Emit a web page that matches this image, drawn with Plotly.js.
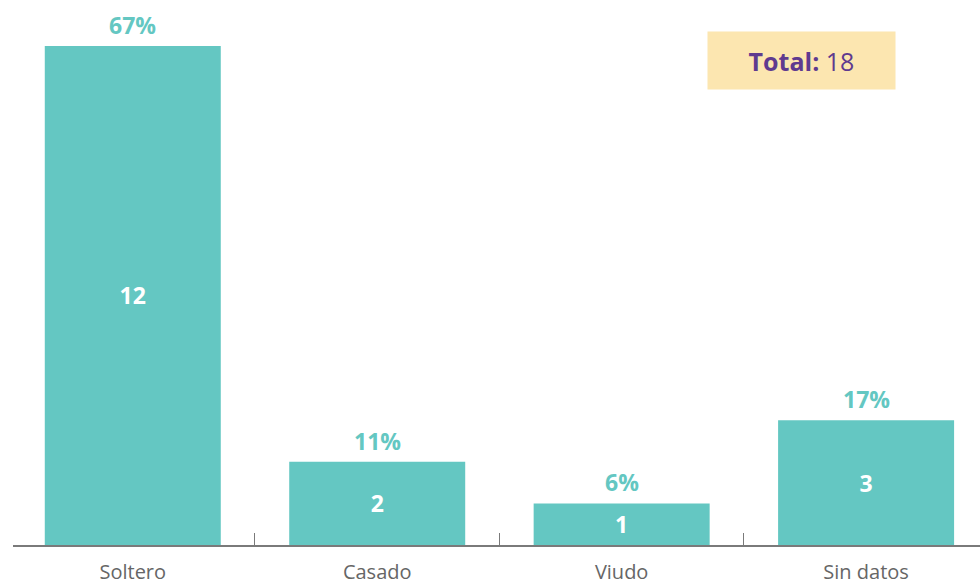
<!DOCTYPE html>
<html><head><meta charset="utf-8">
<script src="https://cdn.plot.ly/plotly-3.0.1.min.js"></script>
<style>html,body{margin:0;padding:0;background:#fff}#c{width:980px;height:586px}</style>
</head><body><div id="c"></div>
<script>
const categories = ["Soltero", "Casado", "Viudo", "Sin datos"];
const counts = [12, 2, 1, 3];
const percents = ["67%", "11%", "6%", "17%"];
const totalLabel = "Total:";
const totalValue = 18;

const teal = "#64c7c2";
const FONT = "Open Sans, sans-serif";

const trace = {
  type: "bar",
  x: categories,
  y: counts,
  text: counts.map(String),
  textposition: "inside",
  insidetextanchor: "middle",
  textangle: 0,
  textfont: {family: FONT, size: 23, color: "#ffffff", weight: 700},
  marker: {color: teal},
  hoverinfo: "none",
  cliponaxis: false
};

const annotations = categories.map((c, i) => ({
  x: c, y: counts[i], xref: "x", yref: "y",
  text: "<b>" + percents[i] + "</b>",
  showarrow: false, yanchor: "bottom", yshift: 3,
  font: {family: FONT, size: 23, color: teal}
}));
annotations.push({
  xref: "paper", yref: "paper", x: 0.8154, y: 0.889,
  xanchor: "center", yanchor: "middle",
  text: "<b>" + totalLabel + "</b> " + totalValue,
  showarrow: false,
  bgcolor: "#fce6b0",
  width: 185, height: 55,
  font: {family: FONT, size: 25, color: "#5f3a8f"}
});

const layout = {
  width: 980, height: 586,
  margin: {l: 13, r: 0, t: 0, b: 41},
  paper_bgcolor: "#ffffff", plot_bgcolor: "#ffffff",
  bargap: 0.28,
  showlegend: false,
  xaxis: {
    type: "category",
    range: [-0.49, 3.466],
    showline: true, linecolor: "#7a7a7a", linewidth: 1.5,
    ticks: "inside", tickson: "boundaries", ticklen: 12, tickcolor: "#7a7a7a", tickwidth: 1,
    tickfont: {family: FONT, size: 20, color: "#666666"},
    showgrid: false, zeroline: false,
    ticklabelstandoff: 8
  },
  yaxis: {
    range: [0, 13.106],
    visible: false, showgrid: false, zeroline: false
  },
  annotations: annotations
};

Plotly.newPlot("c", [trace], layout, {displayModeBar: false, staticPlot: true});
</script></body></html>
